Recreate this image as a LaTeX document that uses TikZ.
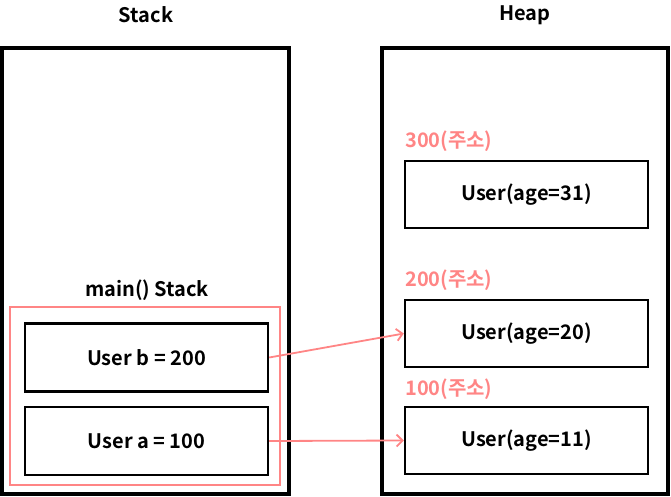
\documentclass[tikz,border=0pt]{standalone}
\usepackage{fontspec}
\setmainfont{Noto Sans CJK KR}[BoldFont={Noto Sans CJK KR Bold}]
\usetikzlibrary{arrows.meta}
\definecolor{pink}{HTML}{FF8585}
\begin{document}
\begin{tikzpicture}[x=1pt,y=-1pt,
  font=\bfseries\fontsize{20}{24}\selectfont,
  outer/.style={draw=black,line width=3.2pt},
  cell/.style={draw=black,line width=2.4pt,minimum width=243pt,inner sep=0pt},
  frame/.style={draw=pink,line width=2pt},
  addr/.style={text=pink,anchor=west,inner sep=0pt},
  ptr/.style={draw=pink,line width=1.8pt,-{Straight Barb[length=6pt,width=12pt,line width=1.8pt]}}]
\useasboundingbox (0,0) rectangle (671,496);
\draw[outer] (2,48) rectangle (289,494);
\draw[outer] (382,48) rectangle (668,494);
\node (stitle) at (146,15) {Stack};
\node (htitle) at (525,15) {Heap};
\draw[frame] (10,307) rectangle (280,485);
\node (mlabel) at (147,290) {main() Stack};
\node[cell,minimum height=68pt] (ub) at (146.5,357.5) {User b = 200};
\node[cell,minimum height=68pt] (ua) at (146.5,441) {User a = 100};
\node[cell,minimum height=67pt] (h31) at (526.5,194.5) {User(age=31)};
\node[cell,minimum height=67pt] (h20) at (526.5,333.5) {User(age=20)};
\node[cell,minimum height=67pt] (h11) at (526.5,440.5) {User(age=11)};
\node[addr] (a300) at (405,141) {300(주소)};
\node[addr] (a200) at (405,280) {200(주소)};
\node[addr] (a100) at (405,389) {100(주소)};
\draw[ptr] (ub.east) -- (h20.west);
\draw[ptr] (ua.east) -- (h11.west);
\end{tikzpicture}
\end{document}
